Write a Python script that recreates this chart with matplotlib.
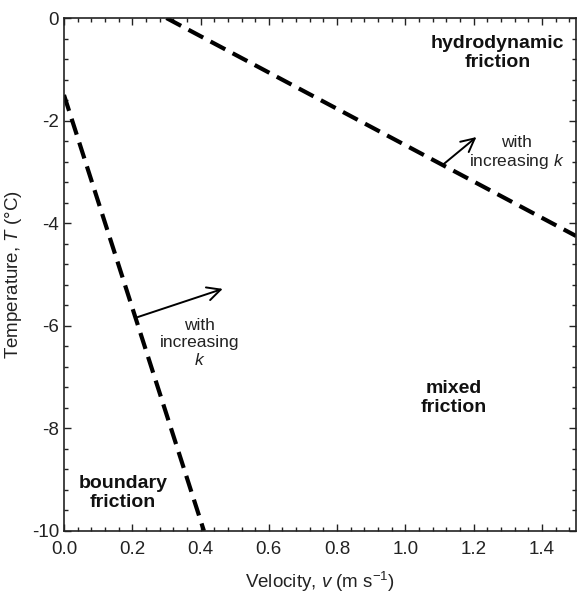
import matplotlib.pyplot as plt
from matplotlib.ticker import MultipleLocator, AutoMinorLocator

plt.rcParams['font.family'] = ['Liberation Sans', 'DejaVu Sans']
plt.rcParams['mathtext.fontset'] = 'custom'
plt.rcParams['mathtext.rm'] = 'Liberation Sans'
plt.rcParams['mathtext.it'] = 'Liberation Sans:italic'
plt.rcParams['mathtext.bf'] = 'Liberation Sans:bold'

# boundary between boundary and mixed friction
boundary_v = [0.0, 0.41]
boundary_T = [-1.5, -10.0]
# boundary between mixed and hydrodynamic friction
hydro_v = [0.30, 1.50]
hydro_T = [0.0, -4.25]

# arrows (start, end) in data coords
arrow_low = [(0.216, -5.83), (0.465, -5.28)]
arrow_high = [(1.108, -2.87), (1.208, -2.32)]

fig = plt.figure(figsize=(5.79, 5.93), dpi=100)
ax = fig.add_axes([0.1105, 0.1046, 0.8845, 0.865])

ax.plot(boundary_v, boundary_T, color='black', lw=3.0, dashes=(4.0, 2.0))
ax.plot(hydro_v, hydro_T, color='black', lw=3.0, dashes=(4.0, 2.0))

for (x0, y0), (x1, y1) in [arrow_low, arrow_high]:
    ax.annotate('', xy=(x1, y1), xytext=(x0, y0),
                arrowprops=dict(arrowstyle='->', color='black', lw=1.4,
                                mutation_scale=24, shrinkA=0, shrinkB=0))

bold = dict(ha='center', va='center', fontsize=14, fontweight='bold',
            linespacing=1.1, color='#111111')
ax.text(1.27, -0.68, 'hydrodynamic\nfriction', **bold)
ax.text(1.143, -7.41, 'mixed\nfriction', **bold)
ax.text(0.172, -9.26, 'boundary\nfriction', **bold)
ax.text(1.325, -2.63, 'with\nincreasing $k$', ha='center', va='center',
        fontsize=12.5, linespacing=1.15, color='#222222')
ax.text(0.398, -6.34, 'with\nincreasing\n$k$', ha='center', va='center',
        fontsize=12.5, linespacing=1.15, color='#222222')

ax.set_xlim(0, 1.5)
ax.set_ylim(-10, 0)
ax.xaxis.set_major_locator(MultipleLocator(0.2))
ax.xaxis.set_minor_locator(AutoMinorLocator(5))
ax.yaxis.set_major_locator(MultipleLocator(2))
ax.yaxis.set_minor_locator(AutoMinorLocator(5))
ax.xaxis.set_major_formatter(plt.FuncFormatter(lambda v, p: f'{v:.1f}'))
ax.yaxis.set_major_formatter(plt.FuncFormatter(lambda v, p: f'{v:.0f}'))
ax.tick_params(which='both', direction='in', top=True, right=True,
               labelsize=13.5, colors='#222222', width=1.0)
ax.tick_params(axis='x', which='major', pad=7)
ax.tick_params(which='major', length=5)
ax.tick_params(which='minor', length=3)
for s in ax.spines.values():
    s.set_linewidth(1.2)
    s.set_color('#222222')

ax.set_xlabel('Velocity, $v$ (m s$^{-1}$)', fontsize=13.5, color='#222222', labelpad=9)
ax.set_ylabel('Temperature, $T$ (°C)', fontsize=13.5, color='#222222', labelpad=6)

plt.savefig('out.png', dpi=100)
plt.close()
